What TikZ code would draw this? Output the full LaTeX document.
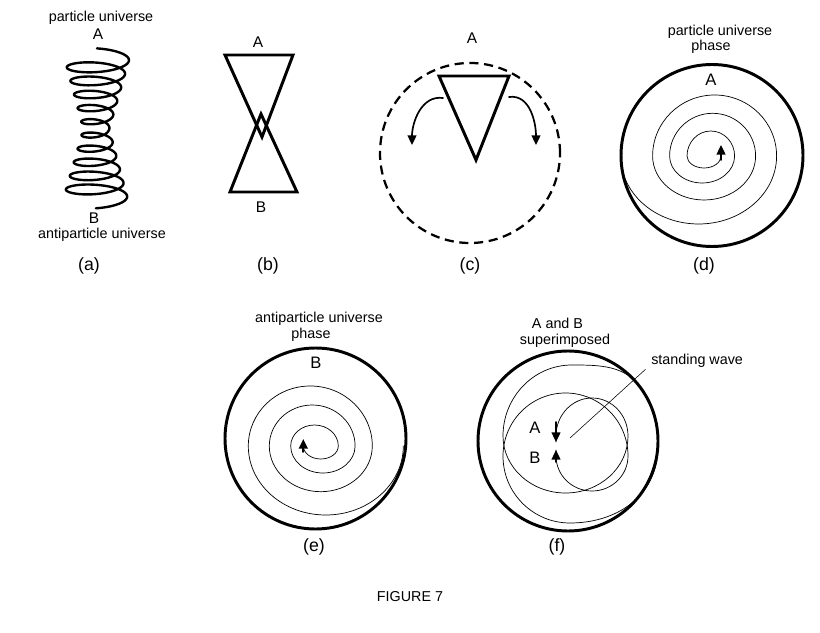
\documentclass[tikz,border=0pt]{standalone}
\usepackage{fontspec}
\setmainfont{Liberation Sans}
\usetikzlibrary{arrows.meta}
\tikzset{
  fig diagram/.style={font=\fontsize{10.2}{12}\selectfont,
    line cap=round, line join=round},
  fig text/.style={inner sep=0pt},
  fig mark/.style={fig text, font=\fontsize{11}{13}\selectfont},
  fig big mark/.style={fig text, font=\fontsize{11.8}{14}\selectfont},
  fig tag/.style={fig text, font=\fontsize{12.6}{15}\selectfont},
  fig rim/.style={line width=2.1pt},
  fig hull/.style={line width=2.1pt, line join=miter, line cap=butt},
  fig coil/.style={line width=1.7pt},
  fig trace/.style={line width=0.5pt},
  fig ring dashed/.style={line width=1.6pt, dash pattern=on 6.5pt off 4pt, line cap=butt},
  fig arrow/.style={-{Triangle[length=2.4mm,width=2.2mm]}, line width=1.2pt},
  fig lead/.style={line width=0.4pt}
}
\begin{document}
\begin{tikzpicture}[fig diagram,x=0.025cm,y=0.025cm]
\useasboundingbox (0,0) rectangle (820,632);
% (a) helix from A to B
\node[fig text] (a-top) at (101,614) {particle universe};
\node[fig mark] (a-A) at (98,598) {A};
\draw[fig coil] plot[domain=0:10.5,samples=420,smooth,variable=\t]
  ({97-1.5*\t/10.5+(13+20*abs(\t-5.3)/5.3)*sin(360*\t)},
   {575-13.6*\t+(3+0.17*(13+20*abs(\t-5.3)/5.3))*cos(360*\t)});
\node[fig mark] (a-B) at (94,414) {B};
\node[fig text] (a-bot) at (102,397) {antiparticle universe};
% (b) two cones
\node[fig mark] (b-A) at (258,590) {A};
\draw[fig hull] (225,577) -- (293,577) -- (262,495) -- cycle;
\draw[fig hull] (230,440) -- (297,440) -- (261,518) -- cycle;
\node[fig mark] (b-B) at (261,425) {B};
% (c) cone turning over
\node[fig mark] (c-A) at (472,594) {A};
\draw[fig ring dashed] (470,479) circle[radius=90];
\draw[fig hull] (439,556) -- (509,556) -- (476,472) -- cycle;
\coordinate (c-l0) at (443,534);
\coordinate (c-l1) at (412,487);
\coordinate (c-r0) at (509,535);
\coordinate (c-r1) at (536,487);
\draw[fig arrow] (c-l0) to[out=172,in=90] (c-l1);
\draw[fig arrow] (c-r0) to[out=8,in=90] (c-r1);
% (d) particle phase
\node[fig text] (d-t1) at (720,600) {particle universe};
\node[fig text] (d-t2) at (711,585) {phase};
\node[fig big mark] (d-A) at (711,552) {A};
\draw[fig rim] (712,476.5) circle[radius=91];
\draw[fig trace] (721,476)
  arc[start angle=0,end angle=-180,x radius=17,y radius=12]
  arc[start angle=180,end angle=0,x radius=23.8,y radius=25]
  arc[start angle=0,end angle=-180,x radius=32.5,y radius=27]
  arc[start angle=180,end angle=0,x radius=43,y radius=42.7]
  arc[start angle=0,end angle=-180,x radius=51.5,y radius=44]
  arc[start angle=180,end angle=0,x radius=62,y radius=61]
  arc[start angle=0,end angle=-165,x radius=78,y radius=68];
\draw[fig arrow] (721,472) -- (721,487);
% (e) antiparticle phase
\node[fig text] (e-t1) at (319,313) {antiparticle universe};
\node[fig text] (e-t2) at (311,297) {phase};
\node[fig big mark] (e-B) at (316,269) {B};
\draw[fig rim] (315.5,193.5) circle[radius=90.5];
\draw[fig trace] (303.3,186)
  arc[start angle=180,end angle=360,x radius=17.5,y radius=13]
  arc[start angle=0,end angle=180,x radius=23.8,y radius=21]
  arc[start angle=180,end angle=360,x radius=32.2,y radius=27]
  arc[start angle=0,end angle=180,x radius=42.9,y radius=41]
  arc[start angle=180,end angle=360,x radius=51.5,y radius=45.7]
  arc[start angle=0,end angle=180,x radius=62,y radius=60]
  arc[start angle=180,end angle=360,x radius=77.5,y radius=69];
\draw[fig arrow] (303.3,180) -- (303.3,193);
% (f) both phases
\node[fig text] (f-t1) at (557.5,309) {A and B};
\node[fig text] (f-t2) at (565,291) {superimposed};
\draw[fig rim] (568,191) circle[radius=90];
\draw[fig trace] (556,190) -- (556,196)
  arc[start angle=180,end angle=0,x radius=36,y radius=38]
  arc[start angle=0,end angle=-180,x radius=62.5,y radius=57]
  to[out=90,in=180] (572,267) to[out=0,in=125] (642,243);
\draw[fig trace] (556,182) -- (556,176)
  arc[start angle=180,end angle=360,x radius=36,y radius=35]
  arc[start angle=0,end angle=180,x radius=62.5,y radius=63]
  to[out=-90,in=180] (570,109) to[out=0,in=-100] (657,172);
\draw[fig arrow] (556,210) -- (556,190);
\draw[fig arrow] (556,170) -- (556,182);
\node[fig big mark] (f-A) at (535,204) {A};
\node[fig big mark] (f-B) at (535,174) {B};
\node[fig text,anchor=west] (wave) at (651,271) {standing wave};
\coordinate (wave-hub) at (570,194);
\draw[fig lead] (wave-hub) -- ([xshift=-4,yshift=-6]wave.west);
% captions
\foreach \px/\py/\tag in {89/366/a,268/366/b,470/366/c,704/366/d,314/85/e,557/85/f}
  \node[fig tag] (cap-\tag) at (\px,\py) {(\tag)};
\node[fig text] (fig-title) at (410,35) {FIGURE 7};
\end{tikzpicture}
\end{document}
